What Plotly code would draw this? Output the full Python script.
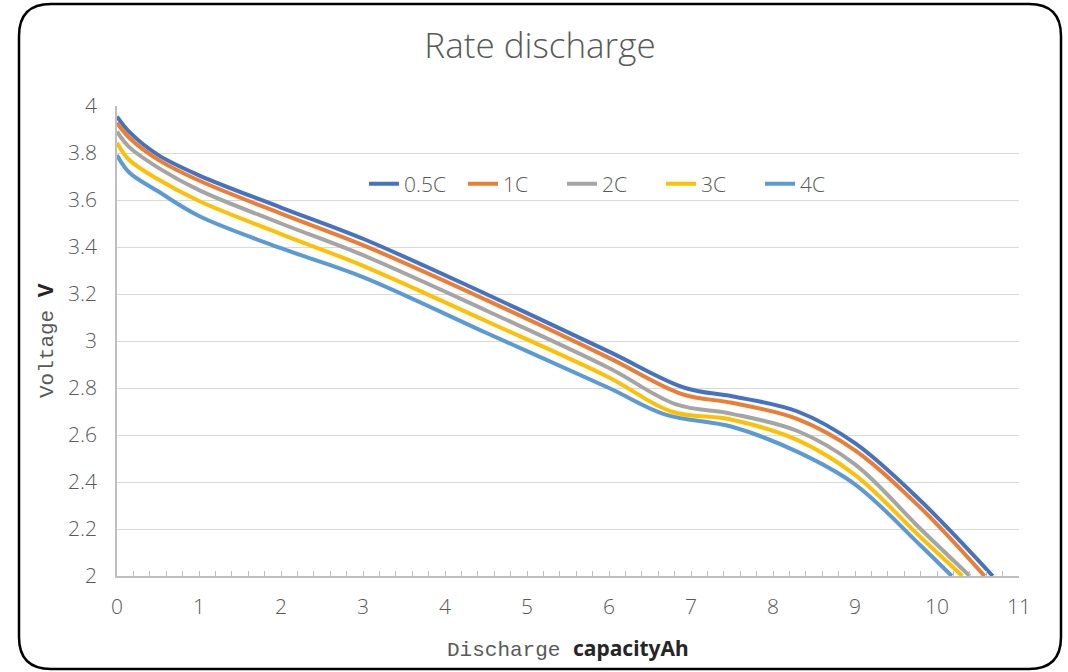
import plotly.graph_objects as go

# Discharge capacity (Ah) and terminal voltage (V) for each C-rate
rates = ["0.5C", "1C", "2C", "3C", "4C"]

cap_05 = [0, 0.15, 0.5, 1, 2, 3, 4.5, 6, 6.93, 7.5, 8.3, 9, 9.8, 10.68]
volt_05 = [3.955, 3.89, 3.792, 3.705, 3.568, 3.435, 3.20, 2.955, 2.80, 2.765, 2.70, 2.565, 2.32, 2.0]

cap_1 = [0, 0.15, 0.5, 1, 2, 3, 4.5, 6, 6.9, 7.5, 8.3, 9, 9.8, 10.58]
volt_1 = [3.929, 3.865, 3.772, 3.683, 3.542, 3.408, 3.175, 2.928, 2.773, 2.737, 2.668, 2.535, 2.29, 2.0]

cap_2 = [0, 0.15, 0.5, 1, 2, 3, 4.5, 6, 6.82, 7.5, 8.3, 9, 9.8, 10.40]
volt_2 = [3.891, 3.825, 3.738, 3.642, 3.50, 3.365, 3.13, 2.885, 2.73, 2.69, 2.617, 2.475, 2.20, 2.0]

cap_3 = [0, 0.15, 0.5, 1, 2, 3, 4.5, 6, 6.76, 7.5, 8.3, 9, 9.8, 10.31]
volt_3 = [3.844, 3.77, 3.688, 3.596, 3.455, 3.32, 3.085, 2.845, 2.70, 2.665, 2.578, 2.43, 2.165, 2.0]

cap_4 = [0, 0.15, 0.5, 1, 2, 3, 4.5, 6, 6.68, 7.5, 8.3, 9, 9.8, 10.18]
volt_4 = [3.791, 3.717, 3.637, 3.532, 3.395, 3.272, 3.035, 2.80, 2.688, 2.635, 2.528, 2.39, 2.13, 2.0]

x_ticks = list(range(0, 12))
y_ticks = [2, 2.2, 2.4, 2.6, 2.8, 3, 3.2, 3.4, 3.6, 3.8, 4]
y_tick_text = ["2", "2.2", "2.4", "2.6", "2.8", "3", "3.2", "3.4", "3.6", "3.8", "4"]

series = [
    (rates[0], cap_05, volt_05, "#4472C4"),
    (rates[1], cap_1, volt_1, "#ED7D31"),
    (rates[2], cap_2, volt_2, "#A5A5A5"),
    (rates[3], cap_3, volt_3, "#FFC000"),
    (rates[4], cap_4, volt_4, "#5B9BD5"),
]

W, H = 1068, 672
ML, MR, MT, MB = 117, 49, 106, 96
PW, PH = W - ML - MR, H - MT - MB

TXT = "#595959"
SANS = "Open Sans"

fig = go.Figure()
for name, xs, ys, col in series:
    fig.add_trace(go.Scatter(
        x=xs, y=ys, name=name, mode="lines",
        line=dict(color=col, width=4, shape="spline", smoothing=1.0),
    ))


def px(x, y):
    """Convert page pixels into paper coordinates."""
    return (x - ML) / PW, (H - MB - y) / PH


# rounded frame around the whole chart
x0, y0, x1, y1, r = 19, 4, 1061, 669, 32
pts = [
    ("M", [(x0 + r, y0)]),
    ("L", [(x1 - r, y0)]),
    ("Q", [(x1, y0), (x1, y0 + r)]),
    ("L", [(x1, y1 - r)]),
    ("Q", [(x1, y1), (x1 - r, y1)]),
    ("L", [(x0 + r, y1)]),
    ("Q", [(x0, y1), (x0, y1 - r)]),
    ("L", [(x0, y0 + r)]),
    ("Q", [(x0, y0), (x0 + r, y0)]),
]
path = ""
for cmd, plist in pts:
    path += cmd + " ".join("%.5f,%.5f" % px(a, b) for a, b in plist) + " "
path += "Z"
fig.add_shape(type="path", path=path, xref="paper", yref="paper",
              line=dict(color="#000000", width=2.5), layer="above")

fig.update_layout(
    width=W, height=H,
    margin=dict(l=ML, r=MR, t=MT, b=MB),
    paper_bgcolor="white", plot_bgcolor="white",
    title=dict(text="Rate discharge", x=540 / W, xref="container", xanchor="center",
               y=1 - 46 / H, yanchor="middle",
               font=dict(family=SANS, size=35, color=TXT, weight=300)),
    legend=dict(orientation="h", x=px(364, 0)[0], y=px(0, 184)[1],
                xanchor="left", yanchor="middle",
                font=dict(family=SANS, size=21, color=TXT, weight=300),
                bgcolor="rgba(0,0,0,0)", entrywidth=54, entrywidthmode="pixels",
                tracegroupgap=0),
    showlegend=True,
    hovermode=False,
)

fig.update_xaxes(
    range=[0, 11], tickvals=x_ticks, ticktext=[str(v) for v in x_ticks],
    showgrid=False, zeroline=False,
    showline=True, linecolor="#BFBFBF", linewidth=1.5,
    ticks="inside", ticklen=5, tickcolor="#BFBFBF", tickwidth=1,
    minor=dict(dtick=0.2, tick0=0, ticks="inside", ticklen=5,
               tickcolor="#BFBFBF", tickwidth=1, showgrid=False),
    ticklabelstandoff=11,
    tickfont=dict(family=SANS, size=21, color=TXT, weight=300),
)
fig.update_yaxes(
    range=[2, 4], tickvals=y_ticks, ticktext=y_tick_text,
    showgrid=True, gridcolor="#D9D9D9", gridwidth=1.2,
    zeroline=False, showline=True, linecolor="#BFBFBF", linewidth=1.5,
    ticks="", ticklabelstandoff=14,
    tickfont=dict(family=SANS, size=21, color=TXT, weight=300),
)

# axis titles
fig.add_annotation(
    x=0.5, y=px(0, 648)[1], xref="paper", yref="paper",
    xanchor="center", yanchor="middle", showarrow=False,
    text="<span style=\"font-family:'Liberation Mono';color:#595959\">Discharge </span>"
         "<b>capacityAh</b>",
    font=dict(family="Noto Sans", size=21, color="#262626"),
)
fig.add_annotation(
    x=px(45, 0)[0], y=0.5, xref="paper", yref="paper",
    xanchor="center", yanchor="middle", showarrow=False, textangle=-90,
    text="<span style=\"font-family:'Liberation Mono';color:#595959\">Voltage </span>"
         "<b>V</b>",
    font=dict(family="Noto Sans", size=21, color="#262626"),
)

fig.write_html("out.html")
